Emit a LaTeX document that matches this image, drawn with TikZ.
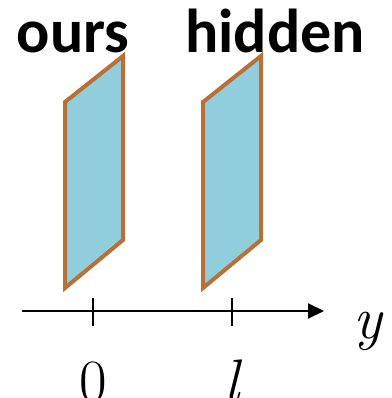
\documentclass[tikz,border=0pt]{standalone}
\usepackage{fontspec}
\newfontfamily\labelfont{Carlito}
\usepackage{xcolor}
\usetikzlibrary{arrows.meta}
\definecolor{planefill}{RGB}{146,205,220}
\definecolor{planeedge}{RGB}{184,112,54}

\begin{document}
\begin{tikzpicture}[
  x=1pt, y=-1pt,
  plane/.style={draw=planeedge, fill=planefill, line width=4pt, line join=miter},
  ttl/.style={font=\labelfont\bfseries\fontsize{62}{62}\selectfont, inner sep=0pt, anchor=base},
  mth/.style={font=\fontsize{60}{60}\selectfont, inner sep=0pt, anchor=base},
  axis/.style={line width=2pt, -{Triangle[length=16pt,width=15pt]}},
  tick/.style={line width=2pt}
]
  \useasboundingbox (0,0) rectangle (391,398);
  % planes
  \draw[plane] (65,102) -- (123,56) -- (123,240) -- (65,288) -- cycle;
  \draw[plane] (203,102) -- (261,56) -- (261,240) -- (203,288) -- cycle;
  \node[ttl] (ours) at (73,53) {ours};
  \node[ttl] (hidden) at (275,53) {hidden};
  % axis
  \coordinate (ystart) at (22,311);
  \coordinate (yend) at (324,311);
  \draw[axis] (ystart) -- (yend);
  \node[mth] (ylab) at (368,338) {\itshape y};
  \draw[tick] (93,298) -- (93,326);
  \draw[tick] (232,298) -- (232,326);
  \node[mth] (zero) at (93,401) {0};
  \node[mth] (ell) at (232,401) {\itshape l};
\end{tikzpicture}
\end{document}
